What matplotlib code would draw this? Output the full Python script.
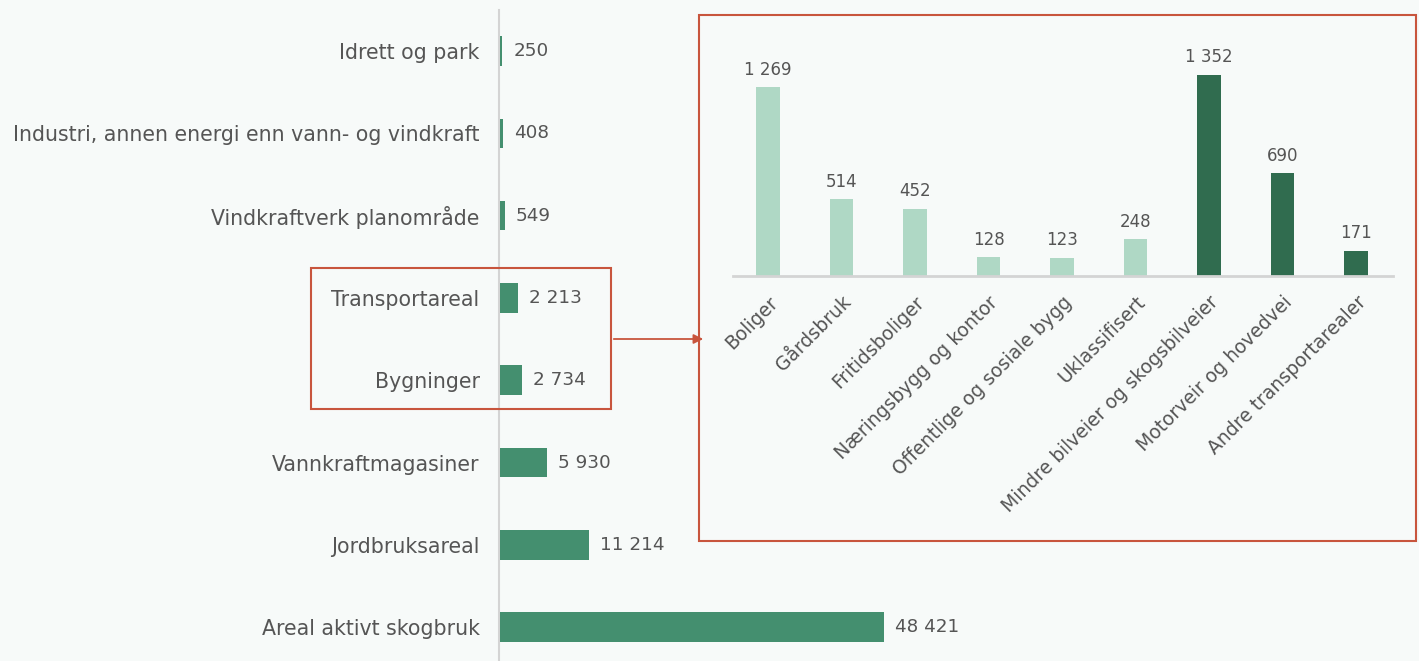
import matplotlib
matplotlib.use("Agg")
import matplotlib.pyplot as plt
from matplotlib.patches import Rectangle, FancyArrowPatch

# main chart data
categories = ["Idrett og park", "Industri, annen energi enn vann- og vindkraft",
              "Vindkraftverk planområde", "Transportareal", "Bygninger",
              "Vannkraftmagasiner", "Jordbruksareal", "Areal aktivt skogbruk"]
values = [250, 408, 549, 2213, 2734, 5930, 11214, 48421]

# inset data
sub_categories = ["Boliger", "Gårdsbruk", "Fritidsboliger", "Næringsbygg og kontor",
                  "Offentlige og sosiale bygg", "Uklassifisert",
                  "Mindre bilveier og skogsbilveier", "Motorveir og hovedvei",
                  "Andre transportarealer"]
sub_values = [1269, 514, 452, 128, 123, 248, 1352, 690, 171]
sub_group = ["bygg"] * 6 + ["transport"] * 3

bg = "#f7faf9"
text_col = "#555555"
green = "#448f6f"
light = "#afd8c5"
dark = "#306c4f"
red = "#c8553d"

plt.rcParams["font.family"] = "DejaVu Sans"

W, H = 1419, 661
fig = plt.figure(figsize=(W / 100, H / 100), dpi=100, facecolor=bg)


def fx(px):
    return px / W


def fy(py):
    return 1 - py / H


def fmt(v):
    return f"{v:,}".replace(",", " ")


# ---- main horizontal bar chart
ax = fig.add_axes([fx(499), 0, fx(400), (H - 10) / H])
ax.set_facecolor("none")
pos = list(range(len(categories)))
ax.barh(pos, values, height=0.36, color=green, zorder=3)
ax.set_xlim(-150, 50313)
ax.set_ylim(7.41, -0.498)
for s in ["top", "right", "bottom"]:
    ax.spines[s].set_visible(False)
ax.spines["left"].set_color("#d4d4d4")
ax.spines["left"].set_linewidth(1.5)
ax.set_xticks([])
ax.set_yticks(pos)
ax.set_yticklabels(categories, fontsize=14.8, color=text_col)
ax.tick_params(axis="y", length=0, pad=14)
for p, v in zip(pos, values):
    ax.annotate(fmt(v), (v, p), xytext=(8, 0), textcoords="offset points",
                va="center", ha="left", fontsize=13.2, color=text_col)

# ---- inset column chart
ax2 = fig.add_axes([fx(733), fy(276), fx(660), 236 / H])
ax2.set_facecolor("none")
xs = list(range(len(sub_categories)))
cols = [light if g == "bygg" else dark for g in sub_group]
ax2.bar(xs, sub_values, width=0.32, color=cols)
ax2.set_xlim(-0.476, 8.5)
ax2.set_ylim(0, 1585)
for s in ["top", "right", "left"]:
    ax2.spines[s].set_visible(False)
ax2.spines["bottom"].set_color("#d4d4d4")
ax2.spines["bottom"].set_linewidth(2)
ax2.set_yticks([])
ax2.set_xticks(xs)
ax2.set_xticklabels(sub_categories, rotation=45, ha="right", rotation_mode="anchor",
                    fontsize=13.5, color=text_col)
ax2.tick_params(axis="x", length=0, pad=12)
for x, v in zip(xs, sub_values):
    ax2.annotate(fmt(v), (x, v), xytext=(0, 6), textcoords="offset points",
                 ha="center", va="bottom", fontsize=12, color=text_col)

# ---- highlight boxes and arrow
fig.add_artist(Rectangle((fx(311), fy(409)), fx(611 - 311), (409 - 268) / H,
                         transform=fig.transFigure, fill=False, edgecolor=red, lw=1.5))
fig.add_artist(Rectangle((fx(699), fy(541)), fx(1416 - 699), (541 - 15) / H,
                         transform=fig.transFigure, fill=False, edgecolor=red, lw=1.5))
fig.add_artist(FancyArrowPatch((fx(611), fy(339)), (fx(706), fy(339)),
                               transform=fig.transFigure, arrowstyle="-|>",
                               mutation_scale=14, color=red, lw=1.3))

fig.savefig("out.png", dpi=100, facecolor=bg)
